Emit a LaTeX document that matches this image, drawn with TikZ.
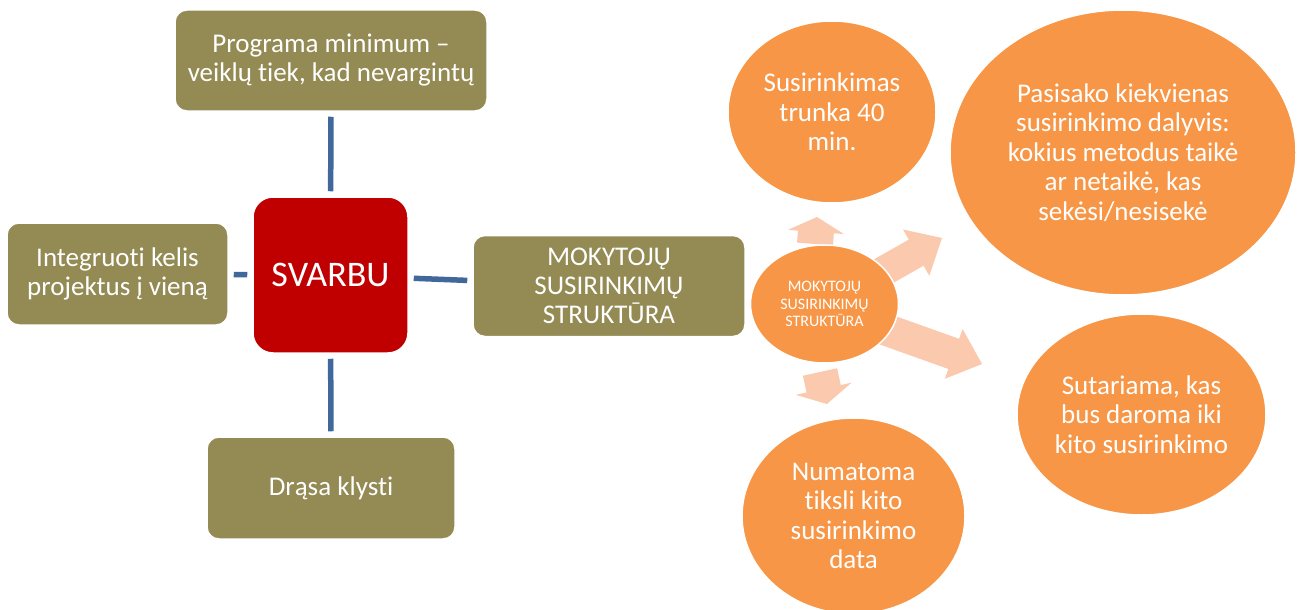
\documentclass[tikz,border=0pt]{standalone}
\usepackage{fontspec}
\setmainfont{Carlito}[RawFeature={-liga}]
\usetikzlibrary{shapes.geometric,calc}
\definecolor{olive}{HTML}{948A54}
\definecolor{svred}{HTML}{C00000}
\definecolor{orng}{HTML}{F79646}
\definecolor{peach}{HTML}{FAC9AE}
\definecolor{linkblue}{HTML}{41689A}
\tikzset{
  box/.style={draw=white, line width=1.5pt, fill=olive, rounded corners=12pt, inner sep=0pt,
    text=white, align=center, font=\fontsize{27}{29}\selectfont},
  mainbox/.style={draw=white, line width=1.5pt, fill=svred, rounded corners=20pt, inner sep=0pt,
    text=white, align=center, font=\fontsize{36}{43}\selectfont},
  oval/.style={ellipse, draw=white, line width=1.5pt, fill=orng, inner sep=0pt,
    text=white, align=center, font=\fontsize{27}{29.5}\selectfont},
  link/.style={draw=linkblue, line width=5.5pt, shorten >=5pt, shorten <=5pt},
  arrowfill/.style={fill=peach}
}
\newcommand\blockarrow[5]{%
  \path ($(#2)!#5!(#1)$) coordinate (ba-h);
  \fill[arrowfill] ($(#1)!#3!90:(#2)$) -- ($(ba-h)!#3!90:(#2)$) -- ($(ba-h)!#4!90:(#2)$)
    -- (#2) -- ($(ba-h)!#4!-90:(#2)$) -- ($(ba-h)!#3!-90:(#2)$) -- ($(#1)!#3!-90:(#2)$) -- cycle;
}
\begin{document}
\begin{tikzpicture}[x=1pt,y=-1pt]
\clip (0,0) rectangle (1299,610);
\fill[white] (0,0) rectangle (1299,610);

% left part
\node[box, minimum width=312pt, minimum height=101pt] (prog) at (331,60.5)
  {Programa minimum --\\veiklų tiek, kad nevargintų};
\node[mainbox, minimum width=155pt, minimum height=156pt] (svarbu) at (330.5,275) {SVARBU};
\node[box, minimum width=221pt, minimum height=102pt] (integ) at (117.5,274)
  {Integruoti kelis\\projektus į vieną};
\node[box, minimum width=248pt, minimum height=102pt] (drasa) at (331,488) {Drąsa klysti};
\node[box, minimum width=272pt, minimum height=101pt] (moky) at (609,286)
  {MOKYTOJŲ\\SUSIRINKIMŲ\\STRUKTŪRA};

\draw[link] (svarbu) -- (prog);
\draw[link] (svarbu) -- (integ);
\draw[link] (svarbu) -- (drasa);
\draw[link] (svarbu) -- (moky);

% block arrows
\coordinate (a1t) at (815,244); \coordinate (a1h) at (817,217);
\coordinate (a2t) at (868,280); \coordinate (a2h) at (942,238);
\coordinate (a3t) at (884,329); \coordinate (a3h) at (982,364);
\coordinate (a4t) at (820,372); \coordinate (a4h) at (827,404);
\blockarrow{a1t}{a1h}{18pt}{28pt}{15pt}
\blockarrow{a2t}{a2h}{15pt}{26.6pt}{29.7pt}
\blockarrow{a3t}{a3h}{16pt}{26.4pt}{30pt}
\blockarrow{a4t}{a4h}{17.5pt}{28.5pt}{15.6pt}

% ovals
\node[oval, minimum width=148pt, minimum height=118pt, font=\fontsize{16}{17.5}\selectfont]
  (center) at (824.5,304) {MOKYTOJŲ\\SUSIRINKIMŲ\\STRUKTŪRA};
\node[oval, minimum width=208pt, minimum height=182pt] (trunka) at (832,112)
  {Susirinkimas\\trunka 40\\min.};
\node[oval, minimum width=346pt, minimum height=285pt] (pasisako) at (1123,152.5)
  {Pasisako kiekvienas\\susirinkimo dalyvis:\\kokius metodus taikė\\ar netaikė, kas\\sekėsi/nesisekė};
\node[oval, minimum width=249pt, minimum height=201pt] (sutariama) at (1141.5,414.5)
  {Sutariama, kas\\bus daroma iki\\kito susirinkimo};
\node[oval, minimum width=223pt, minimum height=196pt] (numatoma) at (853.5,516)
  {Numatoma\\tiksli kito\\susirinkimo\\data};
\end{tikzpicture}
\end{document}
